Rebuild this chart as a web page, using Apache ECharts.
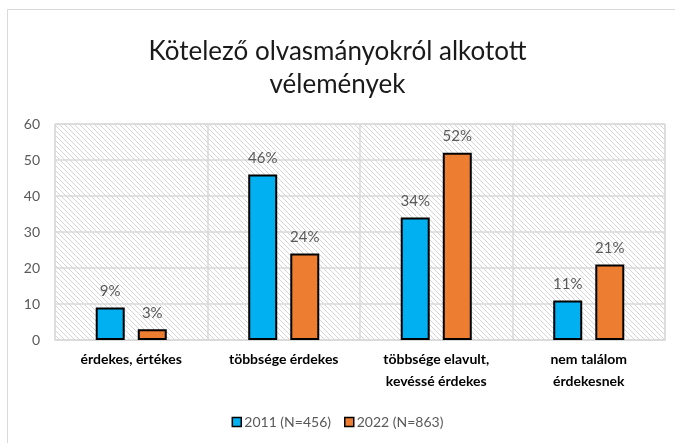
<!DOCTYPE html>
<html>
<head>
<meta charset="utf-8">
<script src="https://cdn.jsdelivr.net/npm/echarts@6/dist/echarts.min.js"></script>
<style>
  html, body { margin: 0; padding: 0; background: #fff; }
  #chart { width: 675px; height: 443px; }
</style>
</head>
<body>
<div id="chart"></div>
<script>
var categories = ['érdekes, értékes', 'többsége érdekes', 'többsége elavult,\nkevéssé érdekes', 'nem találom\nérdekesnek'];
var values2011 = [9, 46, 34, 11];
var values2022 = [3, 24, 52, 21];
var yTicks = { min: 0, max: 60, interval: 10 };

// diagonal hatching for the plot background
function hatch() {
    var c = document.createElement('canvas');
    c.width = 5; c.height = 5;
    var ctx = c.getContext('2d');
    ctx.fillStyle = '#ffffff';
    ctx.fillRect(0, 0, 5, 5);
    ctx.strokeStyle = '#d4d4d4';
    ctx.lineWidth = 1;
    ctx.beginPath();
    ctx.moveTo(-1, -1); ctx.lineTo(6, 6);
    ctx.moveTo(-1, 4); ctx.lineTo(1, 6);
    ctx.moveTo(4, -1); ctx.lineTo(6, 1);
    ctx.stroke();
    return c;
}

var chart = echarts.init(document.getElementById('chart'));
var labelStyle = {
    show: true,
    position: 'top',
    distance: 9,
    formatter: '{c}%',
    color: '#595959',
    fontSize: 15,
    fontFamily: 'Lato'
};
chart.setOption({
    animation: false,
    graphic: [{
        type: 'rect',
        shape: { x: 7.5, y: 9.5, width: 700, height: 460 },
        style: { fill: 'none', stroke: '#d9d9d9', lineWidth: 1 },
        silent: true
    }],
    title: {
        text: 'Kötelező olvasmányokról alkotott\nvélemények',
        left: 'center',
        top: 30,
        textStyle: {
            fontFamily: 'Lato',
            fontSize: 26,
            fontWeight: 'normal',
            color: '#1a1a1a',
            lineHeight: 33
        }
    },
    legend: {
        bottom: 9,
        left: 'center',
        icon: 'rect',
        itemWidth: 9,
        itemHeight: 9,
        itemGap: 13,
        textStyle: { color: '#595959', fontSize: 14, fontFamily: 'Lato', padding: [0, 0, 0, -2] },
        itemStyle: { borderColor: '#000', borderWidth: 1.5 },
        data: ['2011 (N=456)', '2022 (N=863)']
    },
    grid: {
        left: 55,
        right: 10,
        top: 124,
        bottom: 103,
        show: true,
        backgroundColor: { image: hatch(), repeat: 'repeat' },
        borderColor: '#d9d9d9',
        borderWidth: 1
    },
    xAxis: {
        type: 'category',
        data: categories,
        axisLine: { lineStyle: { color: '#d9d9d9' } },
        axisTick: { show: false },
        splitLine: { show: true, lineStyle: { color: '#d9d9d9', width: 1.5 } },
        axisLabel: {
            color: '#000',
            fontWeight: 'bold',
            fontSize: 14,
            fontFamily: 'Lato',
            lineHeight: 22,
            margin: 8,
            interval: 0
        }
    },
    yAxis: {
        type: 'value',
        min: yTicks.min,
        max: yTicks.max,
        interval: yTicks.interval,
        axisLine: { show: false },
        axisTick: { show: false },
        splitLine: { lineStyle: { color: '#d9d9d9', width: 1.5 } },
        axisLabel: { color: '#595959', fontSize: 14, fontFamily: 'Lato', margin: 15 }
    },
    series: [{
        name: '2011 (N=456)',
        type: 'bar',
        data: values2011,
        barWidth: 29,
        barGap: '45%',
        itemStyle: { color: '#00B0F0', borderColor: '#000', borderWidth: 2 },
        label: labelStyle
    }, {
        name: '2022 (N=863)',
        type: 'bar',
        data: values2022,
        barWidth: 29,
        itemStyle: { color: '#ED7D31', borderColor: '#000', borderWidth: 2 },
        label: labelStyle
    }]
});
</script>
</body>
</html>
